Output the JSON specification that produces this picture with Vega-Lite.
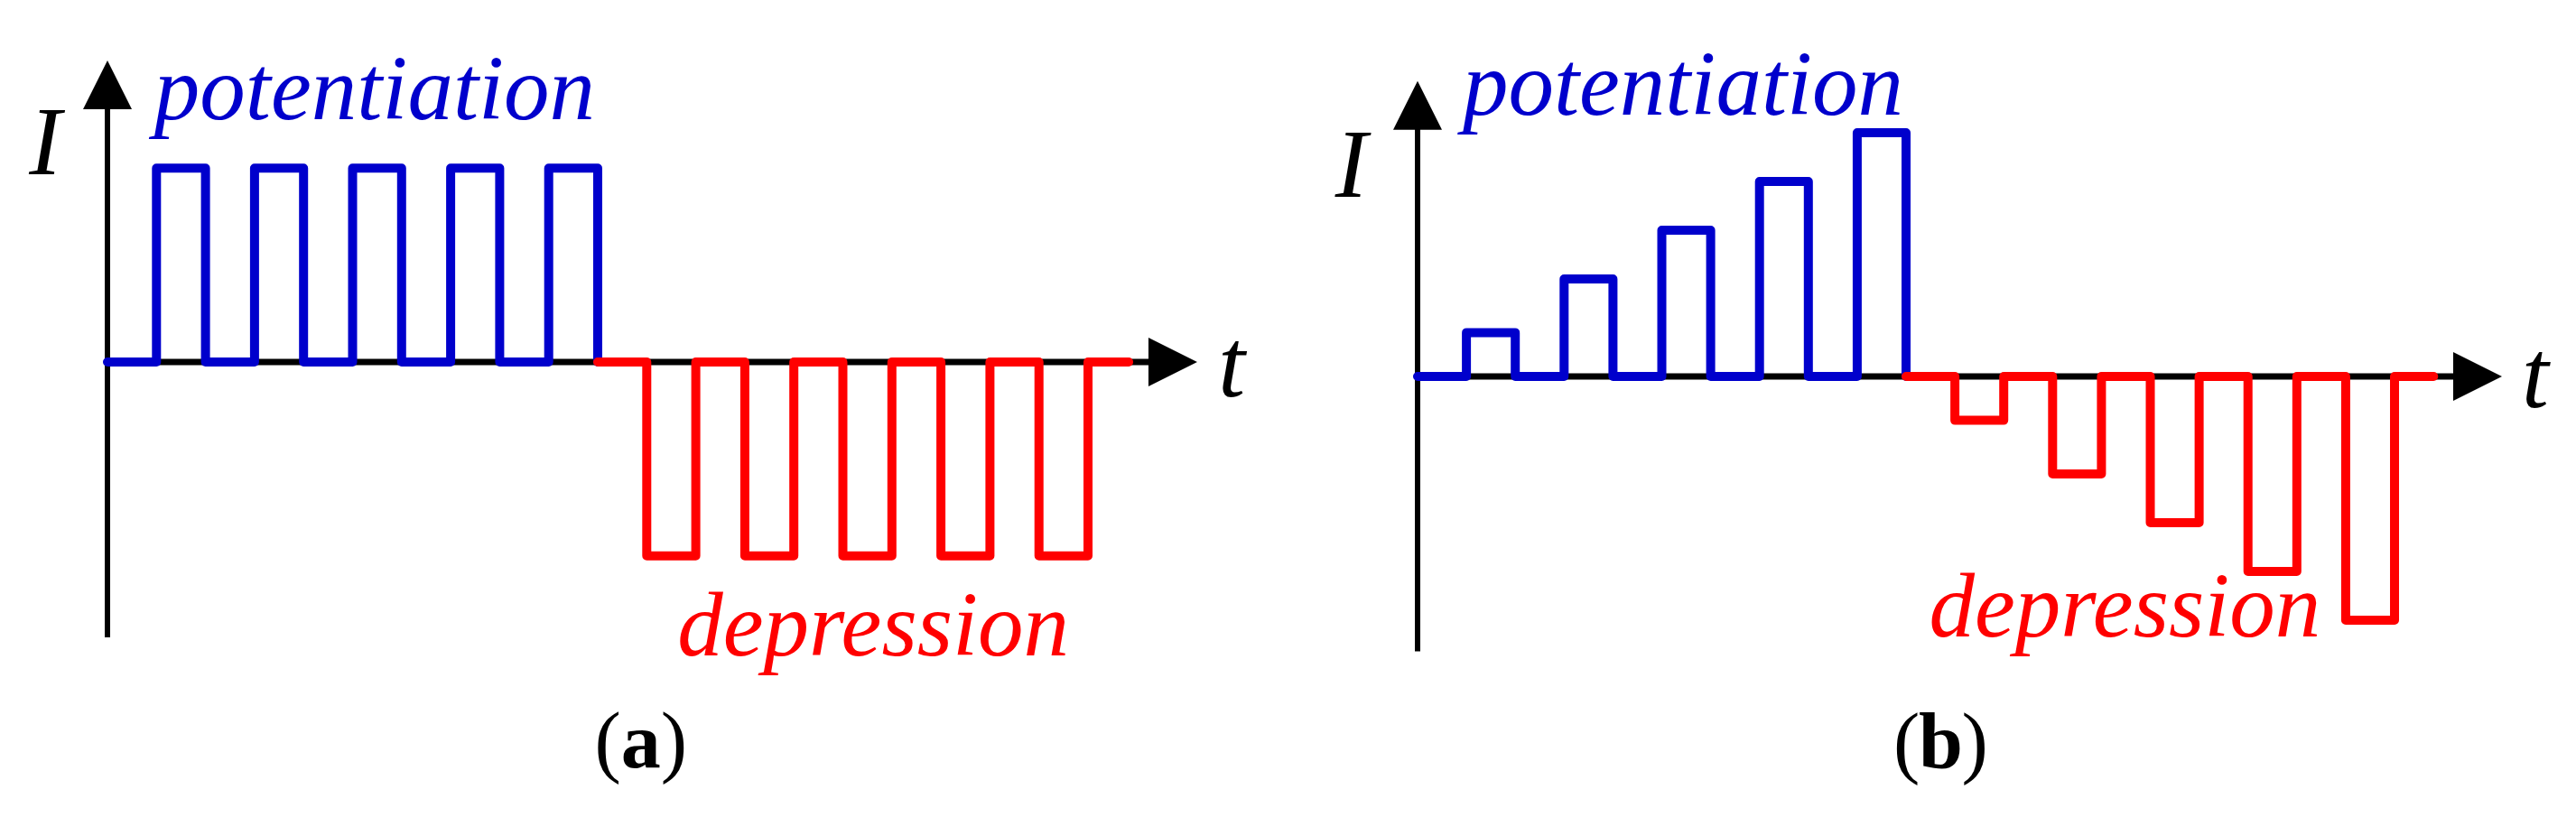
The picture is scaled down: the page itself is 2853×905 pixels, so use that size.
{
  "$schema": "https://vega.github.io/schema/vega-lite/v6.json",
  "padding": 0,
  "spacing": 0,
  "background": "white",
  "config": {"view": {"stroke": null}, "concat": {"spacing": 0}},
  "datasets": {
    "waveA": [
      {"t": 0, "I": 0, "phase": "potentiation"},
      {"t": 1, "I": 4, "phase": "potentiation"},
      {"t": 2, "I": 0, "phase": "potentiation"},
      {"t": 3, "I": 4, "phase": "potentiation"},
      {"t": 4, "I": 0, "phase": "potentiation"},
      {"t": 5, "I": 4, "phase": "potentiation"},
      {"t": 6, "I": 0, "phase": "potentiation"},
      {"t": 7, "I": 4, "phase": "potentiation"},
      {"t": 8, "I": 0, "phase": "potentiation"},
      {"t": 9, "I": 4, "phase": "potentiation"},
      {"t": 10, "I": 0, "phase": "potentiation"},
      {"t": 10, "I": 0, "phase": "depression"},
      {"t": 11, "I": -4, "phase": "depression"},
      {"t": 12, "I": 0, "phase": "depression"},
      {"t": 13, "I": -4, "phase": "depression"},
      {"t": 14, "I": 0, "phase": "depression"},
      {"t": 15, "I": -4, "phase": "depression"},
      {"t": 16, "I": 0, "phase": "depression"},
      {"t": 17, "I": -4, "phase": "depression"},
      {"t": 18, "I": 0, "phase": "depression"},
      {"t": 19, "I": -4, "phase": "depression"},
      {"t": 20, "I": 0, "phase": "depression"},
      {"t": 20.83, "I": 0, "phase": "depression"}
    ],
    "waveB": [
      {"t": 0, "I": 0, "phase": "potentiation"},
      {"t": 1, "I": 0.9, "phase": "potentiation"},
      {"t": 2, "I": 0, "phase": "potentiation"},
      {"t": 3, "I": 2, "phase": "potentiation"},
      {"t": 4, "I": 0, "phase": "potentiation"},
      {"t": 5, "I": 3, "phase": "potentiation"},
      {"t": 6, "I": 0, "phase": "potentiation"},
      {"t": 7, "I": 4, "phase": "potentiation"},
      {"t": 8, "I": 0, "phase": "potentiation"},
      {"t": 9, "I": 5, "phase": "potentiation"},
      {"t": 10, "I": 0, "phase": "potentiation"},
      {"t": 10, "I": 0, "phase": "depression"},
      {"t": 11, "I": -0.9, "phase": "depression"},
      {"t": 12, "I": 0, "phase": "depression"},
      {"t": 13, "I": -2, "phase": "depression"},
      {"t": 14, "I": 0, "phase": "depression"},
      {"t": 15, "I": -3, "phase": "depression"},
      {"t": 16, "I": 0, "phase": "depression"},
      {"t": 17, "I": -4, "phase": "depression"},
      {"t": 18, "I": 0, "phase": "depression"},
      {"t": 19, "I": -5, "phase": "depression"},
      {"t": 20, "I": 0, "phase": "depression"},
      {"t": 20.8, "I": 0, "phase": "depression"}
    ],
    "labelsA": [
      {"label": "potentiation", "kind": "potentiation", "t": 5.45, "I": 5.015},
      {"label": "depression", "kind": "depression", "t": 15.62, "I": -6.052},
      {"label": "I", "kind": "axis", "t": -1.27, "I": 3.873},
      {"label": "t", "kind": "axis", "t": 22.93, "I": -0.70}
    ],
    "labelsB": [
      {"label": "potentiation", "kind": "potentiation", "t": 5.434, "I": 5.365},
      {"label": "depression", "kind": "depression", "t": 14.48, "I": -5.333},
      {"label": "I", "kind": "axis", "t": -1.359, "I": 3.685},
      {"label": "t", "kind": "axis", "t": 22.88, "I": -0.63}
    ],
    "panelA": [{"label": "a", "t": 10.88, "I": -8.36}],
    "panelB": [{"label": "b", "t": 10.71, "I": -8.04}],
    "axesA": [{"t0": 0, "tEnd": 21.7, "tArrow": 21.73, "Ibottom": -5.68, "Itop": 5.6, "Iarrow": 5.717, "Izero": 0}],
    "axesB": [{"t0": 0, "tEnd": 21.7, "tArrow": 21.7, "Ibottom": -5.64, "Itop": 5.5, "Iarrow": 5.56, "Izero": 0}]
  },
  "hconcat": [
    {
      "width": 1426,
      "height": 905,
      "layer": [
        {
          "data": {"name": "axesA"},
          "mark": {"type": "rule", "color": "black", "strokeWidth": 6},
          "encoding": {
            "x": {"field": "t0", "type": "quantitative", "scale": {"domain": [-2.1915, 24.07], "nice": false, "zero": false}, "axis": null},
            "y": {"field": "Ibottom", "type": "quantitative", "scale": {"domain": [-9.3855, 7.4674], "nice": false, "zero": false}, "axis": null},
            "y2": {"field": "Itop"}
          }
        },
        {
          "data": {"name": "axesA"},
          "mark": {"type": "rule", "color": "black", "strokeWidth": 7},
          "encoding": {
            "x": {"field": "t0", "type": "quantitative"},
            "x2": {"field": "tEnd"},
            "y": {"field": "Izero", "type": "quantitative"}
          }
        },
        {
          "data": {"name": "axesA"},
          "mark": {"type": "point", "shape": "M-1,1L1,1L0,-1Z", "filled": true, "color": "black", "opacity": 1, "size": 2916, "strokeWidth": 0},
          "encoding": {
            "x": {"field": "t0", "type": "quantitative"},
            "y": {"field": "Iarrow", "type": "quantitative"}
          }
        },
        {
          "data": {"name": "axesA"},
          "mark": {"type": "point", "shape": "M-1,-1L1,0L-1,1Z", "filled": true, "color": "black", "opacity": 1, "size": 2916, "strokeWidth": 0},
          "encoding": {
            "x": {"field": "tArrow", "type": "quantitative"},
            "y": {"field": "Izero", "type": "quantitative"}
          }
        },
        {
          "data": {"name": "waveA"},
          "mark": {"type": "line", "interpolate": "step-after", "strokeWidth": 10, "strokeJoin": "round", "strokeCap": "round"},
          "encoding": {
            "x": {"field": "t", "type": "quantitative"},
            "y": {"field": "I", "type": "quantitative"},
            "color": {"field": "phase", "type": "nominal", "scale": {"domain": ["potentiation", "depression", "axis"], "range": ["#0000CC", "#FF0000", "#000000"]}, "legend": null}
          }
        },
        {
          "data": {"name": "labelsA"},
          "transform": [{"filter": "datum.kind !== 'axis'"}],
          "mark": {"type": "text", "font": "Liberation Serif", "fontStyle": "italic", "fontSize": 101, "align": "center", "baseline": "alphabetic"},
          "encoding": {
            "x": {"field": "t", "type": "quantitative"},
            "y": {"field": "I", "type": "quantitative"},
            "text": {"field": "label"},
            "color": {"field": "kind", "type": "nominal", "legend": null}
          }
        },
        {
          "data": {"name": "labelsA"},
          "transform": [{"filter": "datum.kind === 'axis'"}],
          "mark": {"type": "text", "font": "Liberation Serif", "fontStyle": "italic", "fontSize": 107, "align": "center", "baseline": "alphabetic"},
          "encoding": {
            "x": {"field": "t", "type": "quantitative"},
            "y": {"field": "I", "type": "quantitative"},
            "text": {"field": "label"},
            "color": {"field": "kind", "type": "nominal", "legend": null}
          }
        },
        {
          "data": {"name": "panelA"},
          "mark": {"type": "text", "font": "Liberation Serif", "fontWeight": "bold", "fontSize": 88, "align": "center", "baseline": "alphabetic", "color": "black"},
          "encoding": {
            "x": {"field": "t", "type": "quantitative"},
            "y": {"field": "I", "type": "quantitative"},
            "text": {"field": "label"}
          }
        },
        {
          "data": {"name": "panelA"},
          "mark": {"type": "text", "text": "(", "font": "Liberation Serif", "fontSize": 88, "align": "right", "baseline": "alphabetic", "dx": -22, "color": "black"},
          "encoding": {
            "x": {"field": "t", "type": "quantitative"},
            "y": {"field": "I", "type": "quantitative"}
          }
        },
        {
          "data": {"name": "panelA"},
          "mark": {"type": "text", "text": ")", "font": "Liberation Serif", "fontSize": 88, "align": "left", "baseline": "alphabetic", "dx": 22, "color": "black"},
          "encoding": {
            "x": {"field": "t", "type": "quantitative"},
            "y": {"field": "I", "type": "quantitative"}
          }
        }
      ]
    },
    {
      "width": 1427,
      "height": 905,
      "layer": [
        {
          "data": {"name": "axesB"},
          "mark": {"type": "rule", "color": "black", "strokeWidth": 6},
          "encoding": {
            "x": {"field": "t0", "type": "quantitative", "scale": {"domain": [-2.6617, 23.715], "nice": false, "zero": false}, "axis": null},
            "y": {"field": "Ibottom", "type": "quantitative", "scale": {"domain": [-9.037, 7.7222], "nice": false, "zero": false}, "axis": null},
            "y2": {"field": "Itop"}
          }
        },
        {
          "data": {"name": "axesB"},
          "mark": {"type": "rule", "color": "black", "strokeWidth": 7},
          "encoding": {
            "x": {"field": "t0", "type": "quantitative"},
            "x2": {"field": "tEnd"},
            "y": {"field": "Izero", "type": "quantitative"}
          }
        },
        {
          "data": {"name": "axesB"},
          "mark": {"type": "point", "shape": "M-1,1L1,1L0,-1Z", "filled": true, "color": "black", "opacity": 1, "size": 2916, "strokeWidth": 0},
          "encoding": {
            "x": {"field": "t0", "type": "quantitative"},
            "y": {"field": "Iarrow", "type": "quantitative"}
          }
        },
        {
          "data": {"name": "axesB"},
          "mark": {"type": "point", "shape": "M-1,-1L1,0L-1,1Z", "filled": true, "color": "black", "opacity": 1, "size": 2916, "strokeWidth": 0},
          "encoding": {
            "x": {"field": "tArrow", "type": "quantitative"},
            "y": {"field": "Izero", "type": "quantitative"}
          }
        },
        {
          "data": {"name": "waveB"},
          "mark": {"type": "line", "interpolate": "step-after", "strokeWidth": 10, "strokeJoin": "round", "strokeCap": "round"},
          "encoding": {
            "x": {"field": "t", "type": "quantitative"},
            "y": {"field": "I", "type": "quantitative"},
            "color": {"field": "phase", "type": "nominal", "scale": {"domain": ["potentiation", "depression", "axis"], "range": ["#0000CC", "#FF0000", "#000000"]}, "legend": null}
          }
        },
        {
          "data": {"name": "labelsB"},
          "transform": [{"filter": "datum.kind !== 'axis'"}],
          "mark": {"type": "text", "font": "Liberation Serif", "fontStyle": "italic", "fontSize": 101, "align": "center", "baseline": "alphabetic"},
          "encoding": {
            "x": {"field": "t", "type": "quantitative"},
            "y": {"field": "I", "type": "quantitative"},
            "text": {"field": "label"},
            "color": {"field": "kind", "type": "nominal", "legend": null}
          }
        },
        {
          "data": {"name": "labelsB"},
          "transform": [{"filter": "datum.kind === 'axis'"}],
          "mark": {"type": "text", "font": "Liberation Serif", "fontStyle": "italic", "fontSize": 107, "align": "center", "baseline": "alphabetic"},
          "encoding": {
            "x": {"field": "t", "type": "quantitative"},
            "y": {"field": "I", "type": "quantitative"},
            "text": {"field": "label"},
            "color": {"field": "kind", "type": "nominal", "legend": null}
          }
        },
        {
          "data": {"name": "panelB"},
          "mark": {"type": "text", "font": "Liberation Serif", "fontWeight": "bold", "fontSize": 88, "align": "center", "baseline": "alphabetic", "color": "black"},
          "encoding": {
            "x": {"field": "t", "type": "quantitative"},
            "y": {"field": "I", "type": "quantitative"},
            "text": {"field": "label"}
          }
        },
        {
          "data": {"name": "panelB"},
          "mark": {"type": "text", "text": "(", "font": "Liberation Serif", "fontSize": 88, "align": "right", "baseline": "alphabetic", "dx": -23, "color": "black"},
          "encoding": {
            "x": {"field": "t", "type": "quantitative"},
            "y": {"field": "I", "type": "quantitative"}
          }
        },
        {
          "data": {"name": "panelB"},
          "mark": {"type": "text", "text": ")", "font": "Liberation Serif", "fontSize": 88, "align": "left", "baseline": "alphabetic", "dx": 23, "color": "black"},
          "encoding": {
            "x": {"field": "t", "type": "quantitative"},
            "y": {"field": "I", "type": "quantitative"}
          }
        }
      ]
    }
  ]
}
